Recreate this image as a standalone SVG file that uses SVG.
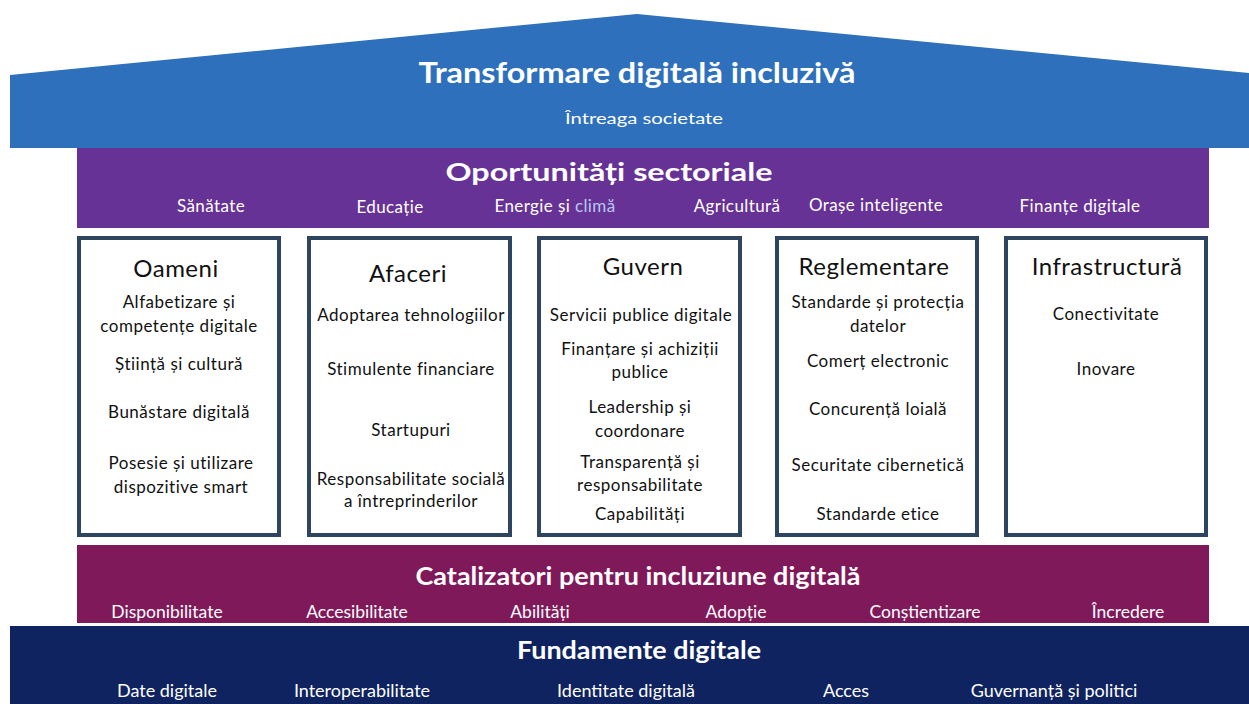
<svg xmlns="http://www.w3.org/2000/svg" width="1249" height="704" viewBox="0 0 1249 704">
<style>
  text { font-family: Lato, "Liberation Sans", sans-serif; }
  .band-title { fill: #ffffff; font-weight: bold; text-anchor: middle; }
  .band-item { fill: #ffffff; font-size: 17px; letter-spacing: 0.4px; text-anchor: middle; }
  .cat-item { fill: #ffffff; font-size: 17.5px; text-anchor: middle; }
  .fund-item { fill: #ffffff; font-size: 18px; text-anchor: middle; }
  .box { fill: #ffffff; stroke: #2d4560; stroke-width: 4; }
  .box-title { fill: #111111; font-size: 24px; letter-spacing: 0.5px; text-anchor: middle; }
  .item { fill: #111111; font-size: 17px; letter-spacing: 0.5px; text-anchor: middle; }
</style>
<rect width="1249" height="704" fill="#ffffff"/>

<g id="roof">
  <polygon points="10,75 637,14 1249,73 1249,148 10,148" fill="#2e70bc"/>
  <text class="band-title" x="637" y="83" font-size="29" textLength="437" lengthAdjust="spacingAndGlyphs">Transformare digitală incluzivă</text>
  <text x="644" y="124" font-size="16" fill="#ffffff" text-anchor="middle" textLength="158" lengthAdjust="spacingAndGlyphs">Întreaga societate</text>
</g>

<g id="oportunitati">
  <rect x="77" y="148" width="1132" height="80" fill="#673296"/>
  <text class="band-title" x="609" y="181" font-size="24" textLength="327" lengthAdjust="spacingAndGlyphs">Oportunități sectoriale</text>
  <text class="band-item" x="211" y="212">Sănătate</text>
  <text class="band-item" x="390" y="213">Educație</text>
  <text class="band-item" x="555" y="212">Energie și <tspan fill="#b7c9f2">climă</tspan></text>
  <text class="band-item" x="737" y="212">Agricultură</text>
  <text class="band-item" x="876" y="211">Orașe inteligente</text>
  <text class="band-item" x="1080" y="212">Finanțe digitale</text>
</g>

<g id="oameni">
  <rect class="box" x="79" y="238" width="200" height="297"/>
  <text class="box-title" x="176" y="277">Oameni</text>
  <text class="item" x="179" y="308">Alfabetizare și</text>
  <text class="item" x="179" y="332">competențe digitale</text>
  <text class="item" x="179" y="370">Știință și cultură</text>
  <text class="item" x="179" y="418">Bunăstare digitală</text>
  <text class="item" x="181" y="469">Posesie și utilizare</text>
  <text class="item" x="181" y="493">dispozitive smart</text>
</g>

<g id="afaceri">
  <rect class="box" x="309" y="238" width="201" height="297"/>
  <text class="box-title" x="408" y="282" font-size="34" letter-spacing="1.2">Afaceri</text>
  <text class="item" x="411" y="321">Adoptarea tehnologiilor</text>
  <text class="item" x="411" y="375">Stimulente financiare</text>
  <text class="item" x="411" y="436">Startupuri</text>
  <text class="item" x="411" y="485">Responsabilitate socială</text>
  <text class="item" x="411" y="507">a întreprinderilor</text>
</g>

<g id="guvern">
  <rect class="box" x="539" y="238" width="201" height="297"/>
  <text class="box-title" x="643" y="275">Guvern</text>
  <text class="item" x="641" y="321">Servicii publice digitale</text>
  <text class="item" x="640" y="355">Finanțare și achiziții</text>
  <text class="item" x="640" y="378">publice</text>
  <text class="item" x="640" y="413">Leadership și</text>
  <text class="item" x="640" y="437">coordonare</text>
  <text class="item" x="640" y="468">Transparență și</text>
  <text class="item" x="640" y="491">responsabilitate</text>
  <text class="item" x="640" y="520">Capabilități</text>
</g>

<g id="reglementare">
  <rect class="box" x="777" y="238" width="200" height="297"/>
  <text class="box-title" x="874" y="275">Reglementare</text>
  <text class="item" x="878" y="308">Standarde și protecția</text>
  <text class="item" x="878" y="332">datelor</text>
  <text class="item" x="878" y="367">Comerț electronic</text>
  <text class="item" x="878" y="415">Concurență loială</text>
  <text class="item" x="878" y="471">Securitate cibernetică</text>
  <text class="item" x="878" y="520">Standarde etice</text>
</g>

<g id="infrastructura">
  <rect class="box" x="1006" y="238" width="200" height="297"/>
  <text class="box-title" x="1107" y="275">Infrastructură</text>
  <text class="item" x="1106" y="320">Conectivitate</text>
  <text class="item" x="1106" y="375">Inovare</text>
</g>

<g id="catalizatori">
  <rect x="77" y="545" width="1132" height="78" fill="#80195a"/>
  <text class="band-title" x="638" y="585" font-size="24" textLength="445" lengthAdjust="spacingAndGlyphs">Catalizatori pentru incluziune digitală</text>
  <text class="cat-item" x="167" y="618">Disponibilitate</text>
  <text class="cat-item" x="357" y="618">Accesibilitate</text>
  <text class="cat-item" x="540" y="618">Abilități</text>
  <text class="cat-item" x="736" y="618">Adopție</text>
  <text class="cat-item" x="925" y="618">Conștientizare</text>
  <text class="cat-item" x="1128" y="618">Încredere</text>
</g>

<g id="fundamente">
  <rect x="10" y="626" width="1239" height="78" fill="#0f2360"/>
  <text class="band-title" x="639" y="659" font-size="24" textLength="244" lengthAdjust="spacingAndGlyphs">Fundamente digitale</text>
  <text class="fund-item" x="167" y="697">Date digitale</text>
  <text class="fund-item" x="362" y="697">Interoperabilitate</text>
  <text class="fund-item" x="626" y="697">Identitate digitală</text>
  <text class="fund-item" x="846" y="697">Acces</text>
  <text class="fund-item" x="1054" y="697">Guvernanță și politici</text>
</g>
<g id="connectors"/>
</svg>
